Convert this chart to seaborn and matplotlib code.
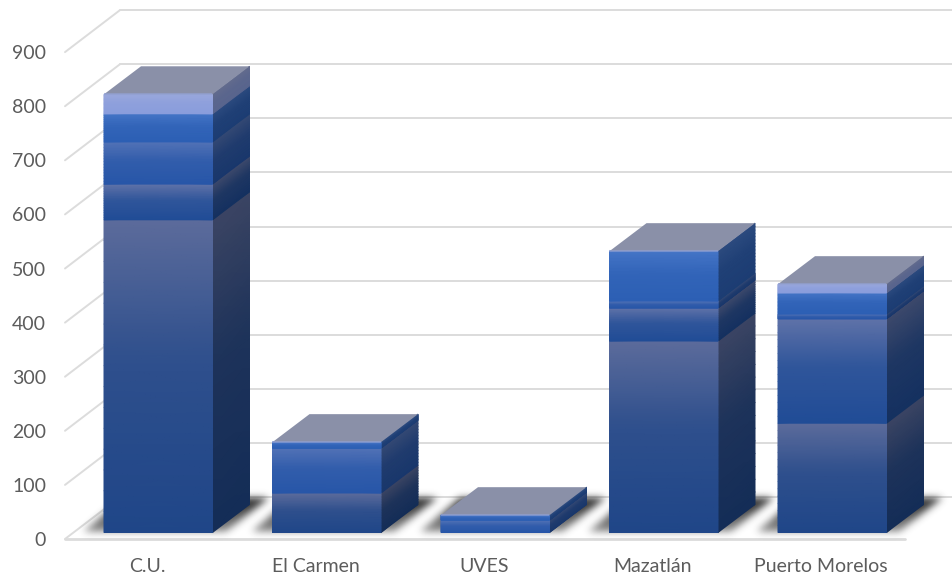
import numpy as np
import pandas as pd
import seaborn as sns
import matplotlib.pyplot as plt
from matplotlib.colors import LinearSegmentedColormap, to_rgb
from matplotlib.patches import Polygon

categories = ["C.U.", "El Carmen", "UVES", "Mazatlán", "Puerto Morelos"]
series_1 = [578, 73, 0, 354, 202]
series_2 = [66, 0, 0, 61, 193]
series_3 = [78, 83, 23, 13, 9]
series_4 = [52, 11, 9, 92, 39]
series_5 = [36, 0, 0, 0, 16]
y_ticks = [0, 100, 200, 300, 400, 500, 600, 700, 800, 900]

# top and bottom colour of the front face for each series
front_colors = [("#5c6b9b", "#1f4688"), ("#5f72a8", "#204c96"), ("#5272b6", "#2756a8"),
                ("#4474c6", "#2c5fb4"), ("#9aa8dc", "#8a9ddc")]

# scale of the picture: 168.5 px per category, 54.1 px per 100
PX_X = 1 / 168.5
PX_Y = 100 / 54.1
xlim = (-158.25 * PX_X, (953 - 158.25) * PX_X)
ylim = (-44.5 * PX_Y, 532.5 * PX_Y)
BAR_W = 108.5 * PX_X
DEPTH_X = 37 * PX_X
DEPTH_Y = 28 * PX_Y

sns.set_theme(style="white")
plt.rcParams["font.family"] = ["Lato", "DejaVu Sans"]

fig = plt.figure(figsize=(9.53, 5.77), dpi=100)
ax = fig.add_axes([0, 0, 1, 1])
ax.set_axis_off()


def shade(x0, x1, y0, y1, rise, cm, z):
    # vertical gradient on a quad, the right edge raised by rise
    f = np.linspace(0, 1, 16)
    x = np.column_stack([np.full(16, x0), np.full(16, x1)])
    y = np.column_stack([y0 + f * (y1 - y0), y0 + f * (y1 - y0) + rise])
    c = np.column_stack([f, f])
    ax.pcolormesh(x, y, c, shading="gouraud", cmap=cm, vmin=0, vmax=1, zorder=z, rasterized=True)


def ramp(top, bottom, factor=1.0):
    top = np.array(to_rgb(top)) * factor
    bottom = np.array(to_rgb(bottom)) * factor
    mid = bottom + 0.25 * (top - bottom)
    return LinearSegmentedColormap.from_list("ramp", [(0, bottom), (0.55, mid), (1, top)])


# walls and floor
grid_color = "#dcdcdc"
front_x = 65 * PX_X + xlim[0]
back_x = 120 * PX_X + xlim[0]
off_front = -6.5 * PX_Y
off_back = 35.5 * PX_Y
for v in y_ticks:
    ax.plot([front_x, back_x], [v + off_front, v + off_back], color=grid_color, lw=1.4, zorder=1)
    ax.plot([back_x, xlim[1]], [v + off_back, v + off_back], color=grid_color, lw=1.4, zorder=1)
    ax.text(front_x - 19 * PX_X, v + off_front - 1.5 * PX_Y, str(v), ha="right", va="center",
            fontsize=14, color="#5c5c5c")
ax.plot([front_x, 905 * PX_X + xlim[0]], [off_front, off_front], color=grid_color, lw=2, zorder=1)

# floor shadow behind every bar
xs = np.linspace(xlim[0], xlim[1], 953)
ys = np.linspace(ylim[0], ylim[1], 577)
gx, gy = np.meshgrid(xs, ys)
t = gy / (34 * PX_Y)
inside = (t >= 0) & (t <= 1)
mask = np.zeros(gx.shape)
for i in range(len(categories)):
    left = i - BAR_W / 2 + (-21 + 40 * t) * PX_X
    right = i + BAR_W / 2 + (13 + 43 * t) * PX_X
    mask[inside & (gx >= left) & (gx <= right)] = 1
kernel = np.exp(-0.5 * (np.arange(-12, 13) / 3.8) ** 2)
kernel = kernel / kernel.sum()
mask = np.apply_along_axis(lambda c: np.convolve(c, kernel, mode="same"), 0, mask)
mask = np.apply_along_axis(lambda c: np.convolve(c, kernel, mode="same"), 1, mask)
rgba = np.zeros(gx.shape + (4,))
rgba[..., :3] = 0.13
rgba[..., 3] = mask * np.clip(0.5 + 0.5 * t, 0, 1)
ax.imshow(rgba, extent=(xlim[0], xlim[1], ylim[0], ylim[1]), origin="lower", aspect="auto", zorder=2)

# stacked bars
all_series = [series_1, series_2, series_3, series_4, series_5]
positions = np.arange(len(categories))
bottoms = np.zeros(len(categories))
tops = [None] * len(categories)
for s, values in enumerate(all_series):
    data = pd.DataFrame({"site": positions, "value": values})
    n_before = len(ax.patches)
    sns.barplot(data=data, x="site", y="value", native_scale=True, bottom=bottoms, width=BAR_W,
                color=front_colors[s][1], saturation=1, errorbar=None, linewidth=0, zorder=4, ax=ax)
    cm = ramp(*front_colors[s])
    cm_side = ramp(*front_colors[s], factor=0.64)
    for i, patch in enumerate(ax.patches[n_before:]):
        h = patch.get_height()
        if h <= 0:
            continue
        x0, x1 = patch.get_x(), patch.get_x() + patch.get_width()
        y0, y1 = patch.get_y(), patch.get_y() + h
        shade(x0, x1, y0, y1, 0, cm, 5)
        shade(x1, x1 + DEPTH_X, y0, y1, DEPTH_Y, cm_side, 4)
        tops[i] = (x0, x1, y1)
    bottoms = bottoms + np.array(values)

for x0, x1, y1 in tops:
    ax.add_patch(Polygon([(x0, y1), (x1, y1), (x1 + DEPTH_X, y1 + DEPTH_Y), (x0 + DEPTH_X, y1 + DEPTH_Y)],
                         closed=True, facecolor="#8a90a8", edgecolor="none", zorder=6))
    ax.plot([x0, x1], [y1, y1], color="#93a3d8", lw=1.5, alpha=0.6, zorder=7, solid_capstyle="butt")

for i, name in enumerate(categories):
    ax.text(i - 11 * PX_X, -63, name, ha="center", va="center", fontsize=14, color="#5c5c5c")

ax.set_xlim(xlim)
ax.set_ylim(ylim)
ax.set_xlabel("")
ax.set_ylabel("")
ax.set_axis_off()
fig.savefig("out.png", dpi=100)
